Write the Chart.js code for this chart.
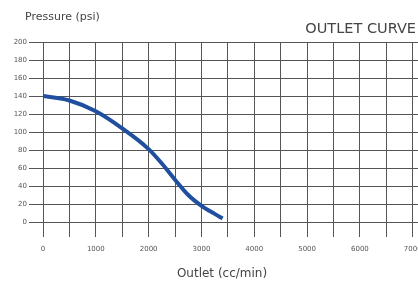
<!DOCTYPE html>
<html>
<head>
<meta charset="utf-8">
<script src="https://cdn.jsdelivr.net/npm/chart.js@4/dist/chart.umd.min.js"></script>
<style>
  html, body { margin: 0; padding: 0; background: #fff; }
  #wrap { width: 418px; height: 284px; }
</style>
</head>
<body>
<div id="wrap"><canvas id="outletChart"></canvas></div>
<script>
const outletFlow = [0, 500, 1000, 1500, 2000, 2250, 2500, 2750, 3000, 3250, 3400];
const pressurePsi = [140, 135, 123, 104, 81, 65, 47, 30, 18, 9, 4];
// grid every 500, label every 1000
const xGridTicks = [0, 500, 1000, 1500, 2000, 2500, 3000, 3500, 4000, 4500, 5000, 5500, 6000, 6500, 7000];
const xLabelTicks = [0, 1000, 2000, 3000, 4000, 5000, 6000, 7000];

const chartTitle = 'OUTLET CURVE';
const yTitle = 'Pressure (psi)';
const xTitle = 'Outlet (cc/min)';

// titles drawn on top of the canvas
const titlesPlugin = {
    id: 'titles',
    afterDraw(chart) {
        const ctx = chart.ctx;
        ctx.save();
        ctx.fillStyle = '#444';
        ctx.textBaseline = 'middle';
        ctx.font = '11px "DejaVu Sans"';
        ctx.textAlign = 'left';
        ctx.fillText(yTitle, 25, 17);
        ctx.font = '14.5px "DejaVu Sans"';
        ctx.textAlign = 'right';
        ctx.fillText(chartTitle, 416, 29);
        ctx.font = '12px "DejaVu Sans"';
        ctx.textAlign = 'center';
        ctx.fillText(xTitle, 222, 274);
        ctx.restore();
    }
};

const gridColor = '#555';

new Chart(document.getElementById('outletChart'), {
    type: 'line',
    data: {
        datasets: [{
            data: outletFlow.map((x, i) => ({ x: x, y: pressurePsi[i] })),
            borderColor: '#1f4f9e',
            borderWidth: 4,
            pointRadius: 0,
            cubicInterpolationMode: 'monotone',
            fill: false
        }]
    },
    options: {
        responsive: true,
        maintainAspectRatio: false,
        animation: false,
        layout: { padding: { top: 42, left: 0, right: 0, bottom: 0 } },
        plugins: {
            legend: { display: false },
            tooltip: { enabled: false }
        },
        scales: {
            x: {
                type: 'linear',
                min: 0,
                max: 7100,
                afterBuildTicks: scale => { scale.ticks = xGridTicks.map(v => ({ value: v })); },
                afterFit: scale => {
                    scale.height = 62;
                    scale.paddingLeft = 0;
                    scale.paddingRight = 0;
                },
                border: { display: false },
                grid: { color: gridColor, lineWidth: 1, tickLength: 15 },
                ticks: {
                    autoSkip: false,
                    maxRotation: 0,
                    padding: 8,
                    color: '#555',
                    font: { family: 'DejaVu Sans', size: 7 },
                    callback: v => (xLabelTicks.includes(v) ? String(v) : '')
                }
            },
            y: {
                min: 0,
                max: 200,
                afterFit: scale => { scale.width = 43; },
                border: { display: false },
                grid: { color: gridColor, lineWidth: 1, tickLength: 14 },
                ticks: {
                    stepSize: 20,
                    padding: 2,
                    color: '#555',
                    font: { family: 'DejaVu Sans', size: 7 }
                }
            }
        }
    },
    plugins: [titlesPlugin]
});
</script>
</body>
</html>
